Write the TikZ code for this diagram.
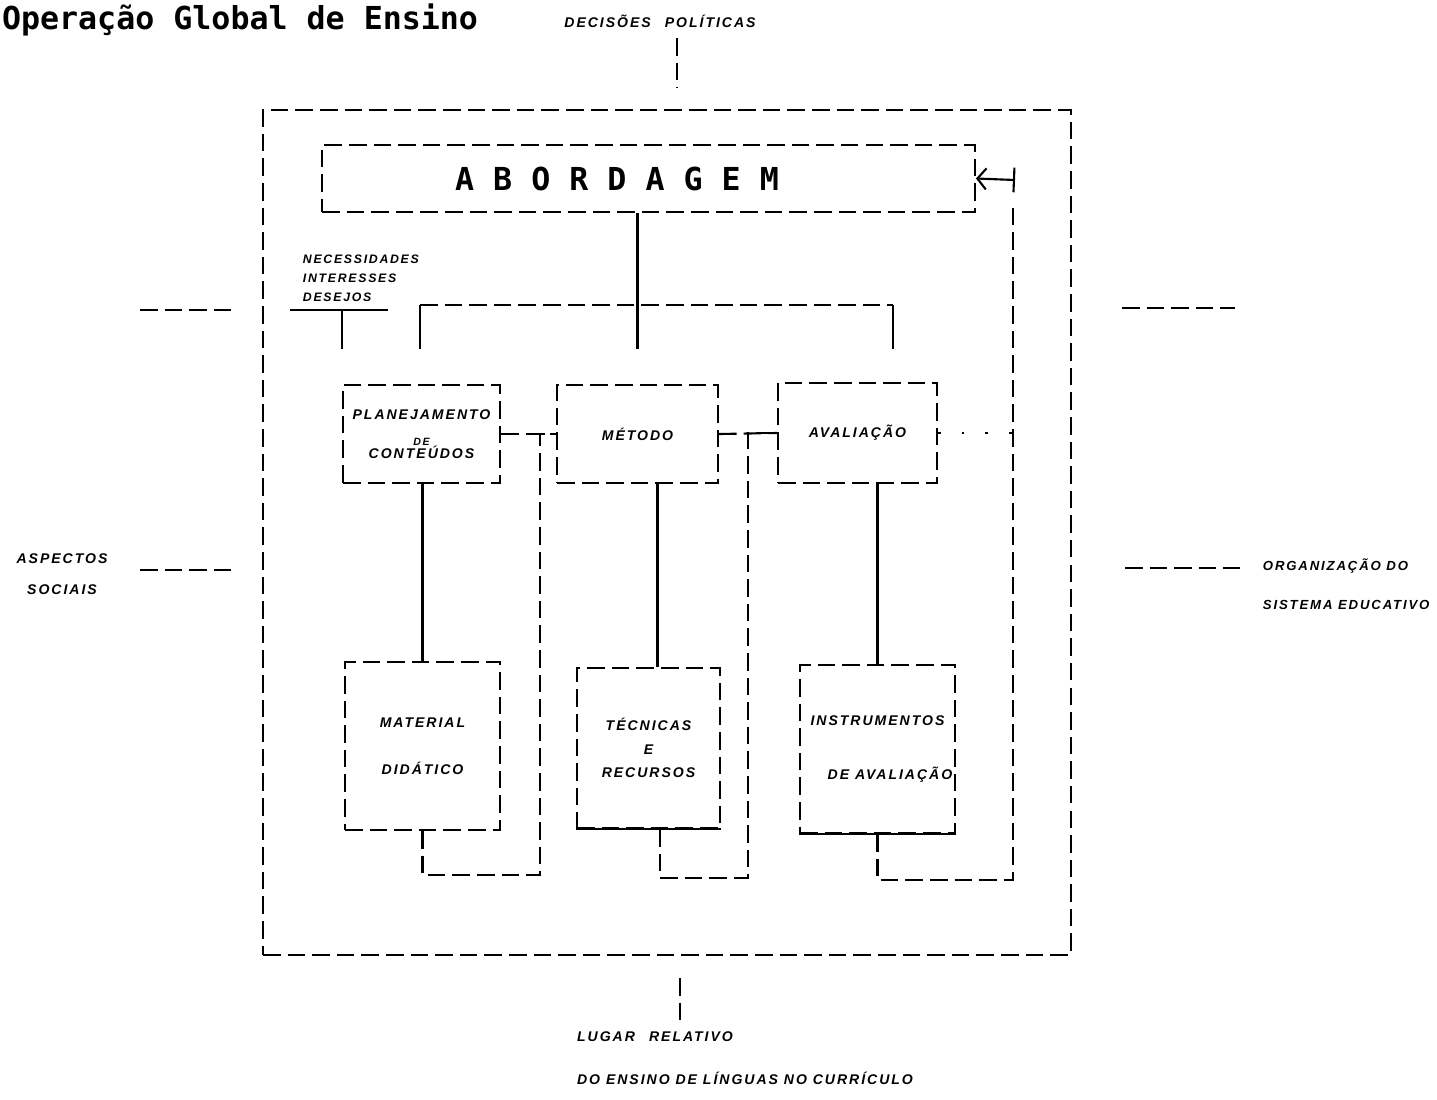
\documentclass[tikz,border=0pt]{standalone}
\usepackage{fontspec}
\usetikzlibrary{arrows.meta,positioning,calc}
\newfontfamily\handfont[LetterSpace=14]{Liberation Sans}
\newfontfamily\dotfont{DejaVu Sans Mono}

\begin{document}
\begin{tikzpicture}[x=0.02cm,y=-0.02cm,line width=1.2pt,
    dsh/.style={dash pattern=on 10pt off 4pt},
    hand/.style={font=\handfont\bfseries\itshape\fontsize{8}{10}\selectfont},
    box/.style args={#1 by #2}{draw,dsh,hand,minimum width=#1,minimum height=#2,
      inner sep=0pt,align=center},
    return/.style={{Straight Barb[length=5pt,width=12pt]}-{Bar[width=14pt]}}]
  \useasboundingbox (0,0) rectangle (1437,1099);

  % Titles
  \node[font=\dotfont\bfseries\fontsize{18}{20}\selectfont,anchor=west,inner sep=0pt] (title) at (1,20) {Operação Global de Ensino};
  \node[hand] (decisoes) at (660,21) {DECISÕES\quad POLÍTICAS};

  % Frames
  \node[box=16.16cm by 16.9cm] (outer) at (667,532.5) {};
  \node[box=13.06cm by 1.34cm,font=\dotfont\bfseries\fontsize{18}{20}\selectfont] (abord) at (648.5,178.5) {A B O R D A G E M\hspace{1.26cm}};

  % Upper row
  \node[box=3.14cm by 1.96cm] (plan) at (421.5,434) {PLANEJAMENTO\\[5pt]{\fontsize{6}{6}\selectfont DE}\\[-3pt]CONTEÚDOS};
  \node[box=3.22cm by 1.96cm] (metodo) at (637.5,434) {MÉTODO};
  \node[box=3.18cm by 2.0cm] (aval) at (857.5,433) {AVALIAÇÃO};

  % Lower row
  \node[box=3.1cm by 3.36cm] (material) at (422.5,746) {MATERIAL\\[17pt]DIDÁTICO};
  \node[box=2.86cm by 3.2cm] (tecnicas) at (648.5,748) {TÉCNICAS\\[3.5pt]E\\[3.5pt]RECURSOS};
  \node[box=3.1cm by 3.36cm] (instr) at (877.5,749) {INSTRUMENTOS\\[21pt]\hspace{0.5cm}DE AVALIAÇÃO};
  \draw (tecnicas.south west) -- (tecnicas.south east);
  \draw (instr.south west) -- (instr.south east);

  % Side labels
  \node[hand,align=left,anchor=west,font=\handfont\bfseries\itshape\fontsize{7}{10.8}\selectfont] (needs) at (296,278) {NECESSIDADES\\INTERESSES\\DESEJOS};
  \node[hand,align=center] (aspectos) at (62,574) {ASPECTOS\\[8pt]SOCIAIS};
  \node[hand,align=left,anchor=west,font=\handfont\bfseries\itshape\fontsize{7.5}{10}\selectfont] (organiz) at (1256,584) {ORGANIZAÇÃO DO\\[12pt]SISTEMA EDUCATIVO};
  \node[hand] (lugar) at (655,1037) {LUGAR\quad RELATIVO};
  \node[hand] (lugar2) at (745,1078) {DO ENSINO DE LÍNGUAS NO CURRÍCULO};

  % Free ends
  \coordinate (topA) at (677,38);
  \coordinate (topB) at (677,88);
  \coordinate (botA) at (680,978);
  \coordinate (botB) at (680,1026);
  \coordinate (lA) at (140,310);
  \coordinate (lB) at (235,310);
  \coordinate (lC) at (140,570);
  \coordinate (lD) at (235,570);
  \coordinate (rA) at (1122,308);
  \coordinate (rB) at (1235,308);
  \coordinate (rC) at (1125,568);
  \coordinate (rD) at (1240,568);
  \coordinate (rowy) at (0,305);
  \coordinate (uL) at (290,310);
  \coordinate (uR) at (388,310);
  \coordinate (jn) at ($(plan.north west)+(0,-35)$);
  \coordinate (jp) at ($(plan.north)+(-1.5,-35)$);
  \coordinate (jm) at ($(metodo.north)+(0,-35)$);
  \coordinate (ja) at ($(aval.north)+(35.5,-33)$);
  \coordinate (loopA) at (540,875);
  \coordinate (loopB) at (748,878);
  \coordinate (loopC) at (1013,880);
  \coordinate (loopCtop) at (1013,205);
  \coordinate (ret) at (1015,180);

  % Outside links
  \draw[dsh] (topA) -- (topB);
  \draw[dsh] (botA) -- (botB);
  \draw[dsh] (lA) -- (lB);
  \draw[dsh] (lC) -- (lD);
  \draw[dsh] (rA) -- (rB);
  \draw[dsh] (rC) -- (rD);

  % Branches from Abordagem
  \draw (abord.south -| jm) -- (jm);
  \draw[dsh] (jp |- rowy) -- (ja |- rowy);
  \draw (jp |- rowy) -- (jp);
  \draw (ja |- rowy) -- (ja);
  \draw (uL) -- (uR);
  \draw (jn |- uL) -- (jn);

  % Columns
  \draw (plan.south -| material.north) -- (material.north);
  \draw ([xshift=0.4cm]metodo.south) -- ([xshift=0.4cm]metodo.south |- tecnicas.north);
  \draw (instr.north |- aval.south) -- (instr.north);

  % Feedback loops
  \draw[dsh] (plan.east) -- (metodo.west);
  \draw[dsh] (material.south) |- (loopA) |- (metodo.west);
  \draw[dsh] (metodo.east) -- (aval.west);
  \draw[dsh] ([xshift=0.23cm]tecnicas.south) |- (loopB) |- (aval.west);
  \draw[dash pattern=on 1.5pt off 12pt] (aval.east) -- (aval.east -| loopC);
  \draw[dsh] (instr.south) |- (loopC) -- (loopCtop);
  \draw[return] (abord.east) -- (ret);
\end{tikzpicture}
\end{document}
